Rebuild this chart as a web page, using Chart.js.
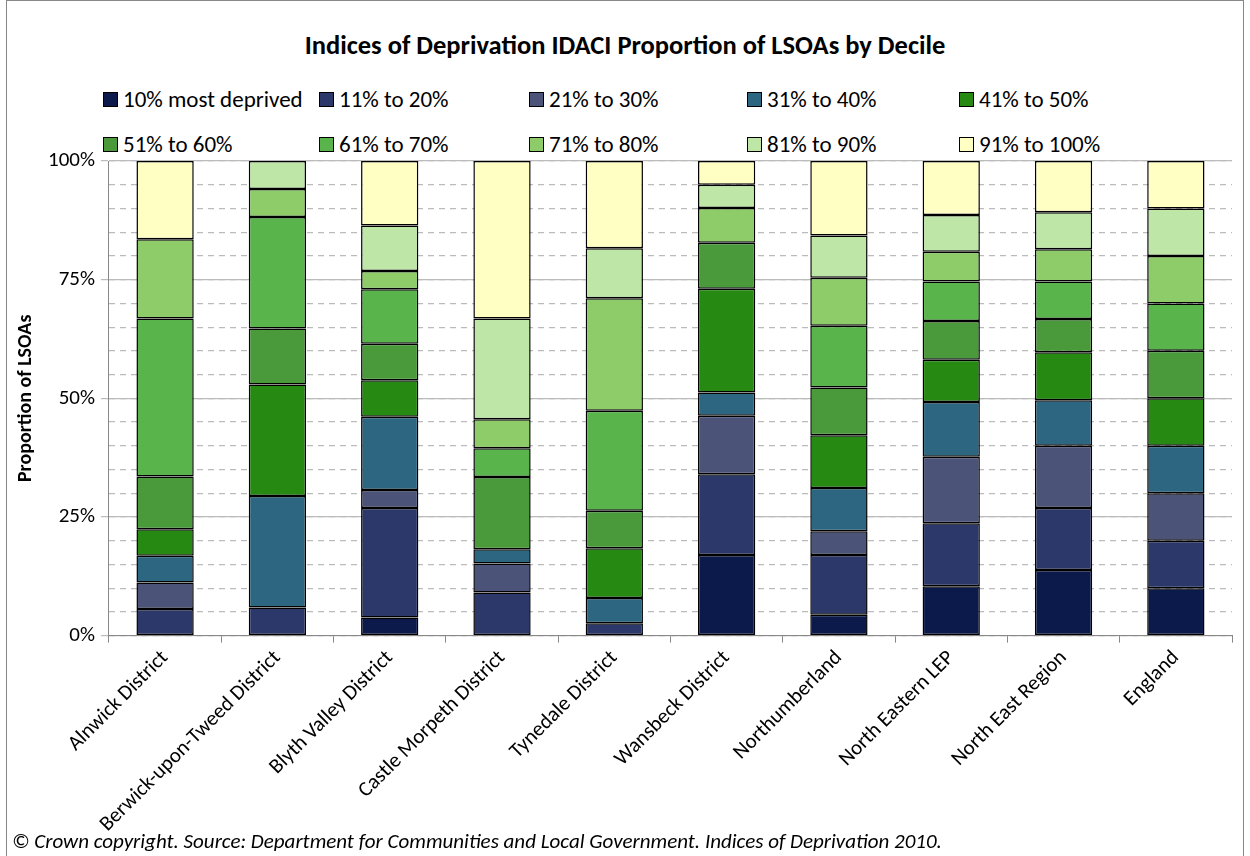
<!DOCTYPE html>
<html>
<head>
<meta charset="utf-8">
<script src="https://cdn.jsdelivr.net/npm/chart.js@4"></script>
<style>
  body { margin: 0; background: #fff; font-family: Calibri, Carlito, Lato, sans-serif; }
  #frame { position: absolute; left: 6px; top: 0; width: 1238px; height: 860px; border: 1px solid #888; box-sizing: border-box; }
  #title { position: absolute; top: 29px; left: 0; width: 1250px; text-align: center; font-weight: bold; font-size: 26.5px; color: #000; }
  #legend { position: absolute; left: 103px; top: 85px; width: 1140px; }
  .item { position: absolute; font-size: 23px; white-space: nowrap; display: flex; align-items: center; }
  .sw { width: 15px; height: 15px; border: 1px solid #000; margin-right: 5px; box-sizing: border-box; }
  #footer { position: absolute; left: 12px; top: 828px; font-style: italic; font-size: 21px; }
  #wrap { position: absolute; left: 0; top: 140px; width: 1250px; height: 700px; }
</style>
</head>
<body>
<div id="frame"></div>
<div id="title">Indices of Deprivation IDACI Proportion of LSOAs by Decile</div>
<div id="legend"></div>
<div id="wrap"><canvas id="chart"></canvas></div>
<div id="footer">© Crown copyright. Source: Department for Communities and Local Government. Indices of Deprivation 2010.</div>
<script>
const areas = ["Alnwick District", "Berwick-upon-Tweed District", "Blyth Valley District", "Castle Morpeth District",
  "Tynedale District", "Wansbeck District", "Northumberland", "North Eastern LEP", "North East Region", "England"];
const deciles = ["10% most deprived", "11% to 20%", "21% to 30%", "31% to 40%", "41% to 50%",
  "51% to 60%", "61% to 70%", "71% to 80%", "81% to 90%", "91% to 100%"];
const colours = ["#0b1a4b", "#2b3869", "#4b5379", "#2d6680", "#268a12", "#4a9a3c", "#59b44b", "#8dcc69", "#bde6a7", "#ffffc4"];

// one array per area, values per decile (percent)
const alnwick = [0, 5.6, 5.6, 5.6, 5.6, 11.1, 33.3, 16.7, 0, 16.5];
const berwick = [0, 5.9, 0, 23.5, 23.5, 11.8, 23.5, 5.9, 5.9, 0];
const blyth = [3.8, 23.1, 3.8, 15.4, 7.7, 7.7, 11.5, 3.8, 9.6, 13.6];
const castleMorpeth = [0, 9.1, 6.1, 3.0, 0, 15.2, 6.1, 6.1, 21.2, 33.2];
const tynedale = [0, 2.6, 0, 5.3, 10.5, 7.9, 21.1, 23.7, 10.5, 18.4];
const wansbeck = [17.0, 17.0, 12.3, 4.9, 21.9, 9.7, 0, 7.3, 4.9, 5.0];
const northumberland = [4.4, 12.6, 5.0, 9.1, 11.1, 10.1, 13.0, 10.1, 8.9, 15.7];
const northEasternLep = [10.4, 13.3, 14.0, 11.5, 8.9, 8.2, 8.3, 6.3, 7.7, 11.4];
const northEastRegion = [13.8, 13.1, 13.1, 9.6, 10.1, 7.0, 7.9, 6.8, 7.8, 10.8];
const england = [10, 10, 10, 10, 10, 10, 10, 10, 10, 10];
const rows = [alnwick, berwick, blyth, castleMorpeth, tynedale, wansbeck, northumberland, northEasternLep, northEastRegion, england];

const yTicks = [0, 25, 50, 75, 100];
const font = "Calibri, Carlito, Lato, sans-serif";

// legend laid out like the original, 5 columns x 2 rows
const legendCols = [0, 216, 426, 644, 856];
const legend = document.getElementById("legend");
deciles.forEach((d, i) => {
    const el = document.createElement("div");
    el.className = "item";
    el.style.left = legendCols[i % 5] + "px";
    el.style.top = (i < 5 ? 0 : 45) + "px";
    el.innerHTML = `<span class="sw" style="background:${colours[i]}"></span>${d}`;
    legend.appendChild(el);
});

const datasets = deciles.map((d, i) => ({
    label: d,
    data: rows.map(r => r[i]),
    backgroundColor: colours[i],
    borderColor: "#000",
    borderWidth: 1.5,
    borderSkipped: false,
    barPercentage: 0.51,
    categoryPercentage: 1
}));

new Chart(document.getElementById("chart"), {
    type: "bar",
    data: { labels: areas, datasets },
    options: {
        responsive: true,
        maintainAspectRatio: false,
        animation: false,
        layout: { padding: { left: 10, right: 18, top: 21, bottom: 0 } },
        plugins: { legend: { display: false }, tooltip: { enabled: false } },
        scales: {
            x: {
                stacked: true,
                grid: { display: true, drawOnChartArea: false, offset: true, color: "#888", tickLength: 7 },
                border: { color: "#888" },
                ticks: { color: "#000", font: { size: 21, family: font }, maxRotation: 45, minRotation: 45 }
            },
            y2: {
                stacked: true, min: 0, max: 100, display: true, position: "left",
                ticks: { display: false, stepSize: 5 },
                grid: { color: "#bbb", lineWidth: 1.2, drawTicks: false },
                border: { display: false, dash: [6, 5] }
            },
            y: {
                stacked: true, min: 0, max: 100,
                afterBuildTicks: s => { s.ticks = yTicks.map(v => ({ value: v })); },
                ticks: { color: "#000", font: { size: 21, family: font }, callback: v => v + "%", padding: 6 },
                grid: { color: "#bbb", lineWidth: 1.2 },
                border: { color: "#888" },
                title: { display: true, text: "Proportion of LSOAs", color: "#000", font: { size: 20, weight: "bold", family: font } }
            }
        }
    }
});
</script>
</body>
</html>
